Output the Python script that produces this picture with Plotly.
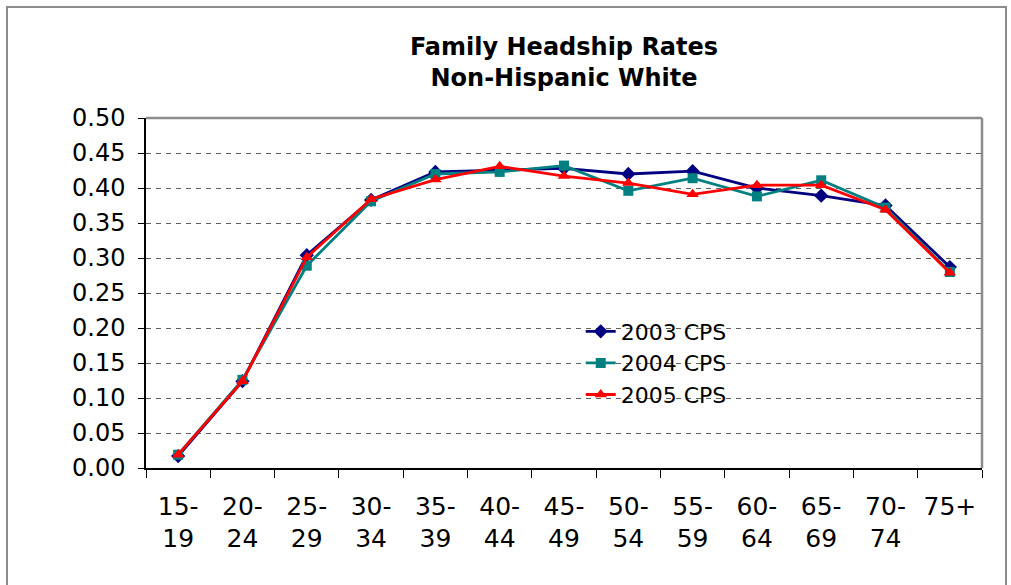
import plotly.graph_objects as go

# Age groups of the household head
age_groups = ["15-<br>19", "20-<br>24", "25-<br>29", "30-<br>34", "35-<br>39",
              "40-<br>44", "45-<br>49", "50-<br>54", "55-<br>59", "60-<br>64",
              "65-<br>69", "70-<br>74", "75+"]

# Family headship rates by survey year
cps_2003 = [0.017, 0.124, 0.304, 0.383, 0.423, 0.426, 0.428, 0.420, 0.424,
            0.400, 0.389, 0.375, 0.287]
cps_2004 = [0.019, 0.126, 0.289, 0.381, 0.420, 0.423, 0.432, 0.396, 0.414,
            0.388, 0.411, 0.372, 0.280]
cps_2005 = [0.019, 0.124, 0.301, 0.384, 0.412, 0.431, 0.417, 0.407, 0.391,
            0.404, 0.404, 0.369, 0.279]

y_ticks = [0.00, 0.05, 0.10, 0.15, 0.20, 0.25, 0.30, 0.35, 0.40, 0.45, 0.50]

series = [
    ("2003 CPS", cps_2003, "#000080", "diamond", 11),
    ("2004 CPS", cps_2004, "#008080", "square", 10),
    ("2005 CPS", cps_2005, "#FF0000", "triangle-up", 11),
]

FONT = "DejaVu Sans"

fig = go.Figure()
for name, vals, color, symbol, msize in series:
    fig.add_trace(go.Scatter(
        x=age_groups, y=vals, name=name, mode="lines+markers",
        line=dict(color=color, width=2.8),
        marker=dict(symbol=symbol, size=msize, color=color),
    ))

fig.update_layout(
    width=1011, height=585,
    paper_bgcolor="white", plot_bgcolor="white",
    margin=dict(l=146, r=29, t=118, b=117),
    font=dict(family=FONT, color="black"),
    title=dict(
        text="<b>Family Headship Rates<br>Non-Hispanic White</b>",
        x=0.5, xanchor="center", xref="paper",
        y=1 - 55 / 585, yanchor="middle", yref="container",
        font=dict(family=FONT, size=24, color="black"),
    ),
    showlegend=True,
    legend=dict(
        x=0.52, y=0.45, xanchor="left", yanchor="top",
        bgcolor="rgba(0,0,0,0)", borderwidth=0,
        font=dict(family=FONT, size=22, color="black"),
        tracegroupgap=0,
    ),
    xaxis=dict(
        type="category", tickson="boundaries",
        showline=True, linecolor="black", linewidth=1.5,
        ticks="outside", ticklen=8, tickcolor="black", tickwidth=1,
        showgrid=False, zeroline=False,
        tickfont=dict(family=FONT, size=25, color="black"),
        ticklabelstandoff=15,
        range=[-0.5, len(age_groups) - 0.5],
    ),
    yaxis=dict(
        range=[0, 0.5], tickvals=y_ticks, tickformat=".2f",
        showline=True, linecolor="black", linewidth=1.5,
        ticks="outside", ticklen=6, tickcolor="black",
        showgrid=True, gridcolor="#606060", gridwidth=1, griddash="5px,5px",
        zeroline=False,
        tickfont=dict(family=FONT, size=24, color="black"),
        ticklabelstandoff=8,
    ),
)

# Plot-area frame on the top and right edges
fig.add_shape(type="line", xref="paper", yref="paper", x0=0, x1=1, y0=1, y1=1,
              line=dict(color="#8c8c8c", width=2.5), layer="above")
fig.add_shape(type="line", xref="paper", yref="paper", x0=1, x1=1, y0=0, y1=1,
              line=dict(color="#8c8c8c", width=2.5), layer="above")

# Outer chart border
fig.add_shape(type="rect", xref="paper", yref="paper",
              x0=(7 - 146) / 836, x1=(1006 - 146) / 836,
              y0=(468 - 600) / 350, y1=(468 - 7) / 350,
              line=dict(color="#8c8c8c", width=2), fillcolor="rgba(0,0,0,0)",
              layer="below")

fig.write_html("out.html")
